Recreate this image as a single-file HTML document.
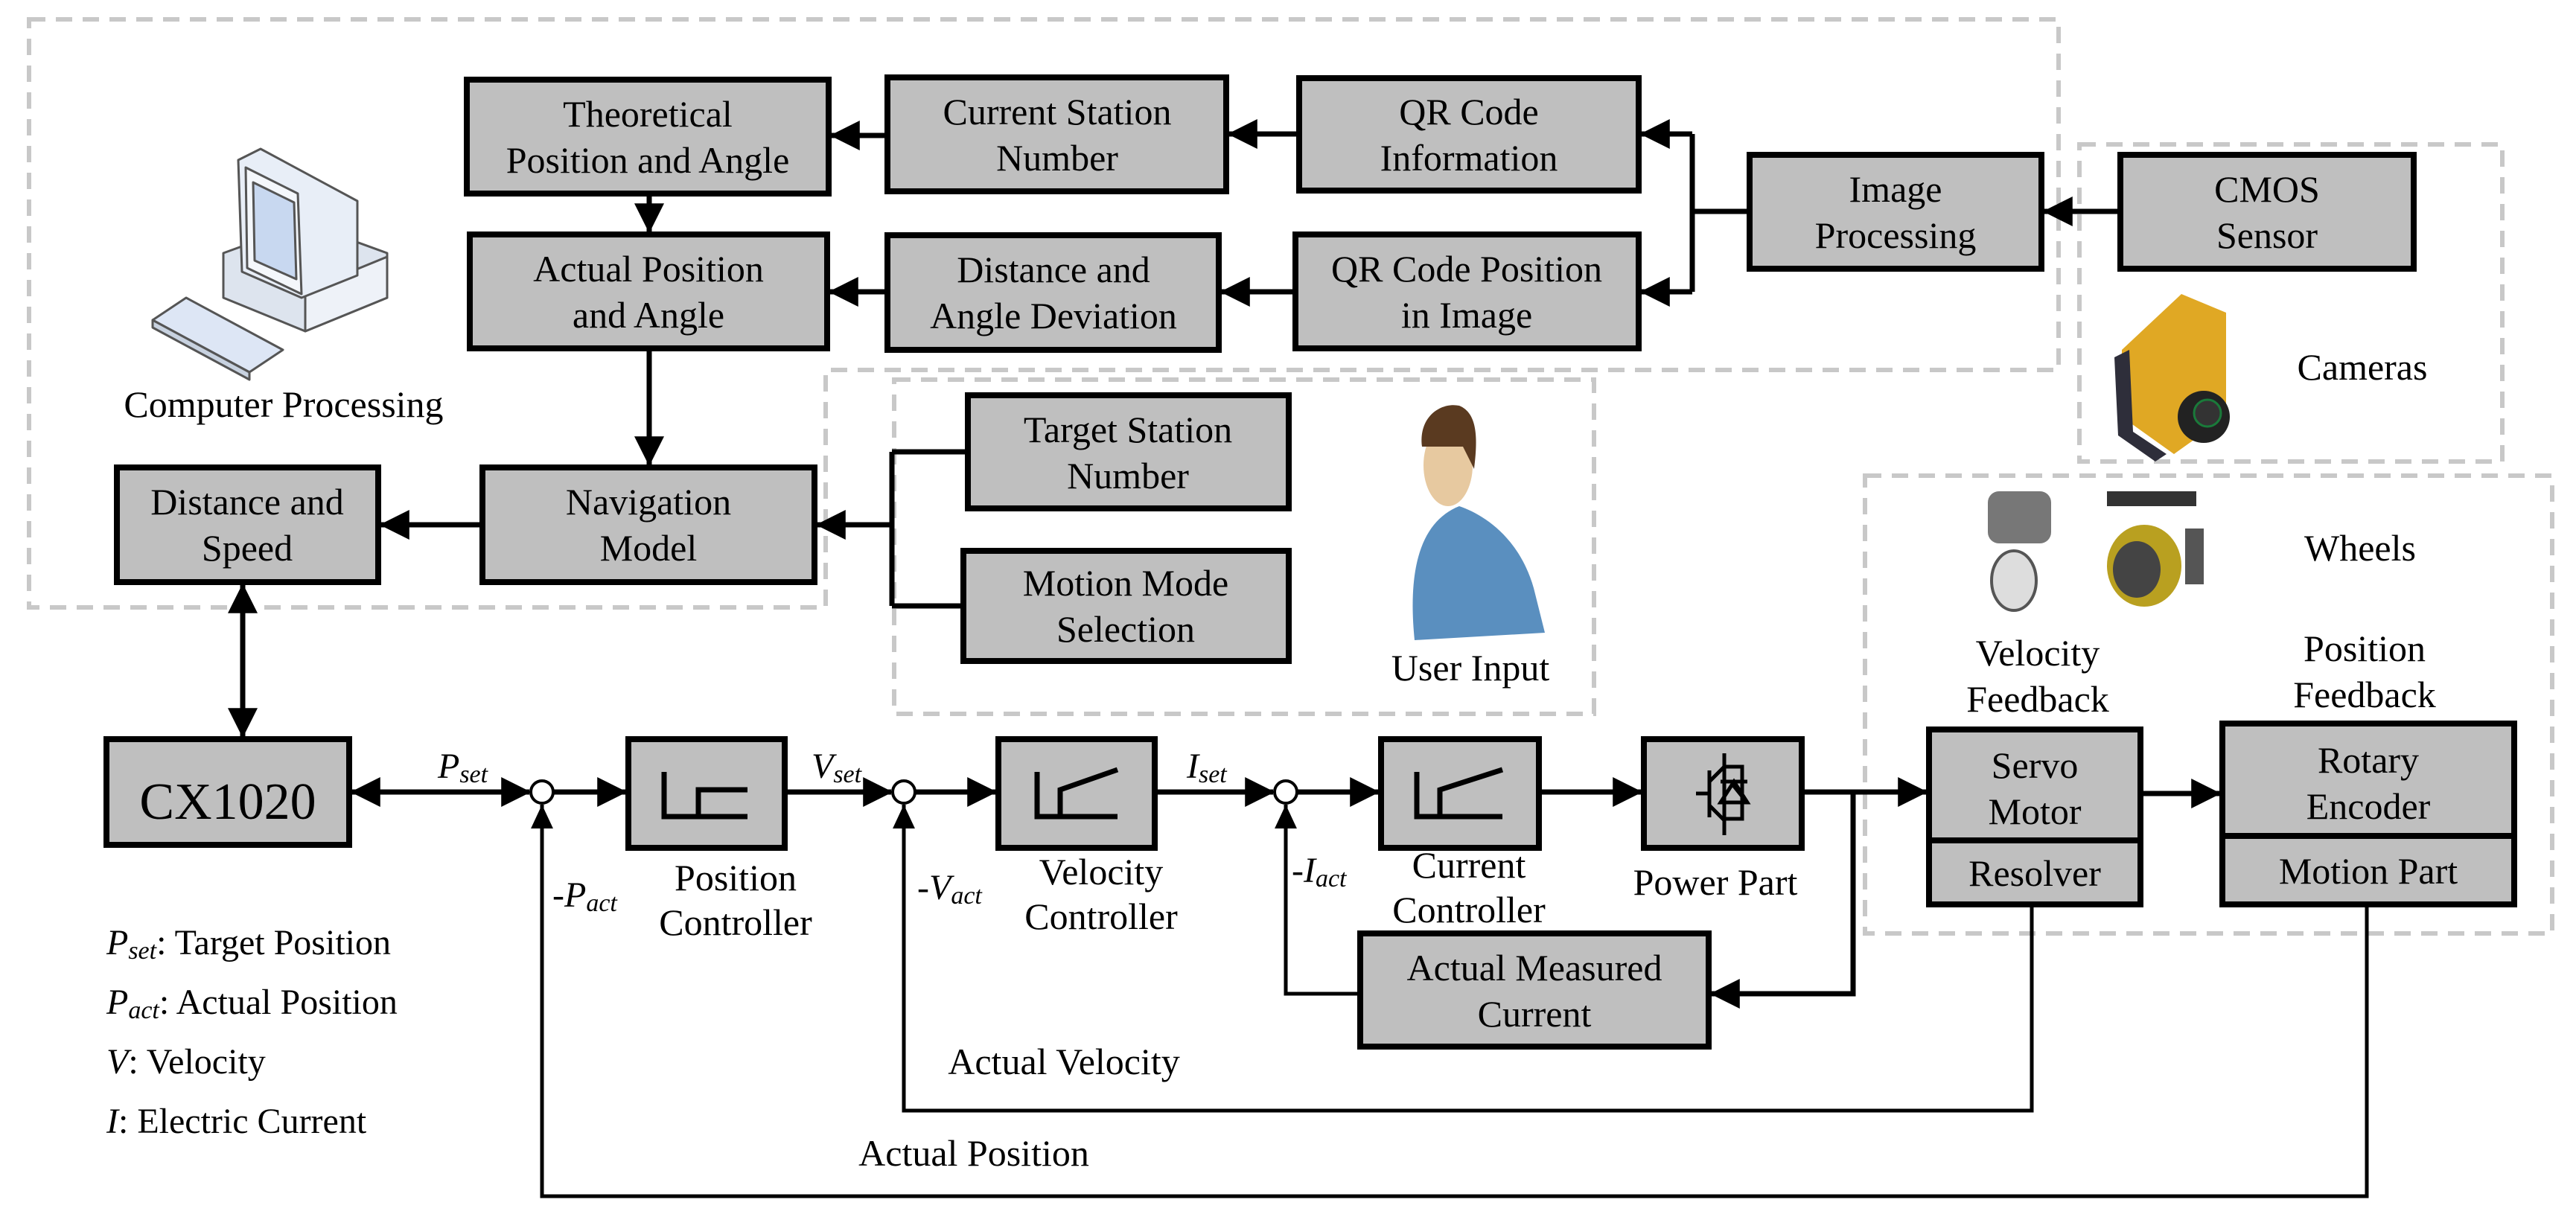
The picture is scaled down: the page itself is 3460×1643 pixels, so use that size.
<!DOCTYPE html>
<html><head><meta charset="utf-8"><style>
html,body{margin:0;padding:0;background:#fff;}
svg{display:block;}
text{font-family:"Liberation Serif",serif;fill:#000;}
</style></head><body>
<svg width="3460" height="1643" viewBox="0 0 3460 1643" xmlns="http://www.w3.org/2000/svg">
<defs>
<marker id="a" markerUnits="userSpaceOnUse" markerWidth="40" markerHeight="40" refX="34" refY="18" orient="auto-start-reverse" viewBox="0 0 36 36"><path d="M0,0 L36,18 L0,36 z" fill="#000"/></marker>
<marker id="s" markerUnits="userSpaceOnUse" markerWidth="32" markerHeight="32" refX="30" refY="14" orient="auto" viewBox="0 0 30 28"><path d="M0,0 L30,14 L0,28 z" fill="#000"/></marker>
</defs>
<g fill="none" stroke="#c8c8c8" stroke-width="6" stroke-dasharray="22,14">
<path d="M39,26 H2765 V497 H1109 V816 H39 Z"/>
<rect x="1201" y="510" width="940" height="449"/>
<rect x="2793" y="194" width="568" height="426"/>
<rect x="2505" y="639" width="923" height="615"/>
</g>
<g fill="#bfbfbf" stroke="#000" stroke-width="8">
<rect x="627" y="107" width="486" height="153"/>
<rect x="1192" y="104" width="455" height="153"/>
<rect x="1745" y="105" width="456" height="151"/>
<rect x="631" y="315" width="480" height="153"/>
<rect x="1192" y="316" width="445" height="154"/>
<rect x="1740" y="315" width="461" height="153"/>
<rect x="2350" y="208" width="392" height="153"/>
<rect x="2848" y="208" width="394" height="153"/>
<rect x="1300" y="531" width="431" height="152"/>
<rect x="1294" y="740" width="437" height="148"/>
<rect x="157" y="628" width="351" height="154"/>
<rect x="648" y="628" width="446" height="154"/>
<rect x="143" y="993" width="326" height="142"/>
<rect x="844" y="993" width="210" height="146"/>
<rect x="1341" y="993" width="210" height="146"/>
<rect x="1855" y="993" width="212" height="146"/>
<rect x="2208" y="993" width="212" height="146"/>
<rect x="1827" y="1254" width="468" height="152"/>
<rect x="2591" y="980" width="284" height="149"/>
<rect x="2591" y="1129" width="284" height="86"/>
<rect x="2985" y="972" width="392" height="151"/>
<rect x="2985" y="1123" width="392" height="92"/>
</g>
<g stroke="#000" stroke-width="7" fill="none">
<line x1="1192" y1="182" x2="1117" y2="182" marker-end="url(#a)"/>
<line x1="1745" y1="180" x2="1651" y2="180" marker-end="url(#a)"/>
<line x1="1740" y1="392" x2="1641" y2="392" marker-end="url(#a)"/>
<line x1="1192" y1="392" x2="1115" y2="392" marker-end="url(#a)"/>
<line x1="872" y1="260" x2="872" y2="311" marker-end="url(#a)"/>
<line x1="872" y1="468" x2="872" y2="624" marker-end="url(#a)"/>
<line x1="648" y1="705" x2="512" y2="705" marker-end="url(#a)"/>
<line x1="2350" y1="284" x2="2273" y2="284"/>
<line x1="2273" y1="180" x2="2273" y2="392"/>
<line x1="2273" y1="180" x2="2205" y2="180" marker-end="url(#a)"/>
<line x1="2273" y1="392" x2="2205" y2="392" marker-end="url(#a)"/>
<line x1="2848" y1="284" x2="2746" y2="284" marker-end="url(#a)"/>
<line x1="1300" y1="607" x2="1198" y2="607"/>
<line x1="1294" y1="814" x2="1198" y2="814"/>
<line x1="1198" y1="607" x2="1198" y2="814"/>
<line x1="1198" y1="705" x2="1098" y2="705" marker-end="url(#a)"/>
<line x1="326" y1="786" x2="326" y2="989" marker-start="url(#a)" marker-end="url(#a)"/>
<line x1="473" y1="1064" x2="711" y2="1064" marker-start="url(#a)" marker-end="url(#a)"/>
<line x1="743" y1="1064" x2="840" y2="1064" marker-end="url(#a)"/>
<line x1="1054" y1="1064" x2="1197" y2="1064" marker-end="url(#a)"/>
<line x1="1229" y1="1064" x2="1337" y2="1064" marker-end="url(#a)"/>
<line x1="1551" y1="1064" x2="1710" y2="1064" marker-end="url(#a)"/>
<line x1="1742" y1="1064" x2="1851" y2="1064" marker-end="url(#a)"/>
<line x1="2067" y1="1064" x2="2204" y2="1064" marker-end="url(#a)"/>
<line x1="2420" y1="1064" x2="2587" y2="1064" marker-end="url(#a)"/>
<line x1="2875" y1="1066" x2="2981" y2="1066" marker-end="url(#a)"/>
<path d="M2489,1064 V1335 H2299" marker-end="url(#a)"/>
</g>
<g stroke="#000" stroke-width="5" fill="none">
<path d="M1827,1335 H1727 V1081" marker-end="url(#s)"/>
<path d="M2729,1215 V1492 H1214 V1081" marker-end="url(#s)"/>
<path d="M3179,1215 V1607 H728 V1081" marker-end="url(#s)"/>
</g>
<g fill="#fff" stroke="#000" stroke-width="4">
<circle cx="728" cy="1064" r="15"/>
<circle cx="1214" cy="1064" r="15"/>
<circle cx="1727" cy="1064" r="15"/>
</g>
<g stroke="#000" stroke-width="7" fill="none">
<path d="M892,1037 V1097 H1004 M938,1097 V1061 H1004"/>
<path d="M1393,1037 V1097 H1501 M1424,1097 V1061 L1501,1034"/>
<path d="M1903,1037 V1097 H2018 M1934,1097 V1061 L2018,1034"/>
</g>
<g stroke="#000" stroke-width="5" fill="none">
<path d="M2316,1012 V1122 M2296,1035 V1098 M2278,1066 H2296 M2296,1050 L2316,1030 M2296,1082 L2316,1102 M2316,1030 H2340 V1100 H2316 M2328,1055 L2340,1070"/>
<path d="M2329,1050 L2347,1078 H2311 Z M2311,1050 H2347"/>
</g>
<g font-size="50" text-anchor="middle">
<text x="870" y="170">Theoretical</text><text x="870" y="232">Position and Angle</text>
<text x="1420" y="167">Current Station</text><text x="1420" y="229">Number</text>
<text x="1973" y="167">QR Code</text><text x="1973" y="229">Information</text>
<text x="871" y="378">Actual Position</text><text x="871" y="440">and Angle</text>
<text x="1415" y="379">Distance and</text><text x="1415" y="441">Angle Deviation</text>
<text x="1970" y="378">QR Code Position</text><text x="1970" y="440">in Image</text>
<text x="2546" y="271">Image</text><text x="2546" y="333">Processing</text>
<text x="3045" y="271">CMOS</text><text x="3045" y="333">Sensor</text>
<text x="1515" y="594">Target Station</text><text x="1515" y="656">Number</text>
<text x="1512" y="800">Motion Mode</text><text x="1512" y="862">Selection</text>
<text x="332" y="691">Distance and</text><text x="332" y="753">Speed</text>
<text x="871" y="691">Navigation</text><text x="871" y="753">Model</text>
<text x="2061" y="1317">Actual Measured</text><text x="2061" y="1379">Current</text>
<text x="2733" y="1045">Servo</text><text x="2733" y="1107">Motor</text>
<text x="2733" y="1190">Resolver</text>
<text x="3181" y="1038">Rotary</text><text x="3181" y="1100">Encoder</text>
<text x="3181" y="1187">Motion Part</text>
<text x="381" y="560">Computer Processing</text>
<text x="3173" y="510">Cameras</text>
<text x="3170" y="753">Wheels</text>
<text x="1975" y="914">User Input</text>
<text x="2737" y="894">Velocity</text><text x="2737" y="956">Feedback</text>
<text x="3176" y="888">Position</text><text x="3176" y="950">Feedback</text>
<text x="988" y="1196">Position</text><text x="988" y="1256">Controller</text>
<text x="1479" y="1188">Velocity</text><text x="1479" y="1248">Controller</text>
<text x="1973" y="1179">Current</text><text x="1973" y="1239">Controller</text>
<text x="2304" y="1202">Power Part</text>
<text x="1429" y="1443">Actual Velocity</text>
<text x="1308" y="1566">Actual Position</text>
<text x="306" y="1100" font-size="70" fill="#222">CX1020</text>
</g>
<g font-size="48">
<text x="588" y="1045" font-style="italic">P<tspan font-size="34" dy="6">set</tspan></text>
<text x="1090" y="1045" font-style="italic">V<tspan font-size="34" dy="6">set</tspan></text>
<text x="1594" y="1045" font-style="italic">I<tspan font-size="34" dy="6">set</tspan></text>
<text x="742" y="1218" font-style="italic">-P<tspan font-size="34" dy="6">act</tspan></text>
<text x="1232" y="1208" font-style="italic">-V<tspan font-size="34" dy="6">act</tspan></text>
<text x="1735" y="1185" font-style="italic">-I<tspan font-size="34" dy="6">act</tspan></text>
<text x="143" y="1282"><tspan font-style="italic">P<tspan font-size="34" dy="6">set</tspan></tspan><tspan dy="-6">: Target Position</tspan></text>
<text x="143" y="1362"><tspan font-style="italic">P<tspan font-size="34" dy="6">act</tspan></tspan><tspan dy="-6">: Actual Position</tspan></text>
<text x="143" y="1442"><tspan font-style="italic">V</tspan>: Velocity</text>
<text x="143" y="1522"><tspan font-style="italic">I</tspan>: Electric Current</text>
</g>
<!-- computer -->
<g stroke="#555" stroke-width="3" stroke-linejoin="round">
<path d="M300,340 L410,300 L520,340 L520,400 L410,445 L300,400 Z" fill="#dde4ee"/>
<path d="M410,390 L520,345 L520,400 L410,445 Z" fill="#eef2f8"/>
<path d="M320,215 L350,200 L480,270 L480,370 L405,400 L325,365 Z" fill="#e8eef7"/>
<path d="M330,225 L400,260 L405,395 L332,360 Z" fill="#f4f7fb"/>
<path d="M340,245 L395,272 L398,375 L342,350 Z" fill="#c8d8f0"/>
<path d="M205,430 L250,400 L380,470 L335,500 Z" fill="#dde6f5"/>
<path d="M205,430 L205,440 L335,510 L335,500 Z" fill="#c8d2e0"/>
</g>
<!-- person -->
<g>
<path d="M1900,860 C1890,760 1910,700 1960,680 C1990,690 2040,720 2060,790 L2075,850 Z" fill="#5a8fbf"/>
<ellipse cx="1945" cy="625" rx="33" ry="55" fill="#e7c9a0"/>
<path d="M1910,600 C1905,560 1935,540 1960,545 C1985,555 1985,590 1980,630 L1965,600 Z" fill="#5a3a20"/>
</g>
<!-- camera -->
<g>
<path d="M2850,470 L2930,395 L2990,420 L2990,560 L2920,610 L2850,560 Z" fill="#e0a824"/>
<path d="M2840,480 L2860,470 L2865,580 L2910,610 L2895,620 L2845,585 Z" fill="#2e2e3a"/>
<circle cx="2960" cy="560" r="35" fill="#222"/><circle cx="2965" cy="555" r="18" fill="#333" stroke="#1a7a3a" stroke-width="3"/>
</g>
<!-- wheels -->
<g>
<rect x="2670" y="660" width="85" height="70" rx="15" fill="#777"/>
<ellipse cx="2705" cy="780" rx="30" ry="40" fill="#ddd" stroke="#555" stroke-width="4"/>
<rect x="2830" y="660" width="120" height="20" fill="#333"/>
<ellipse cx="2880" cy="760" rx="50" ry="55" fill="#b9a020"/>
<ellipse cx="2870" cy="765" rx="32" ry="38" fill="#444"/>
<rect x="2935" y="710" width="25" height="75" fill="#555"/>
</g>
</svg>
</body></html>
